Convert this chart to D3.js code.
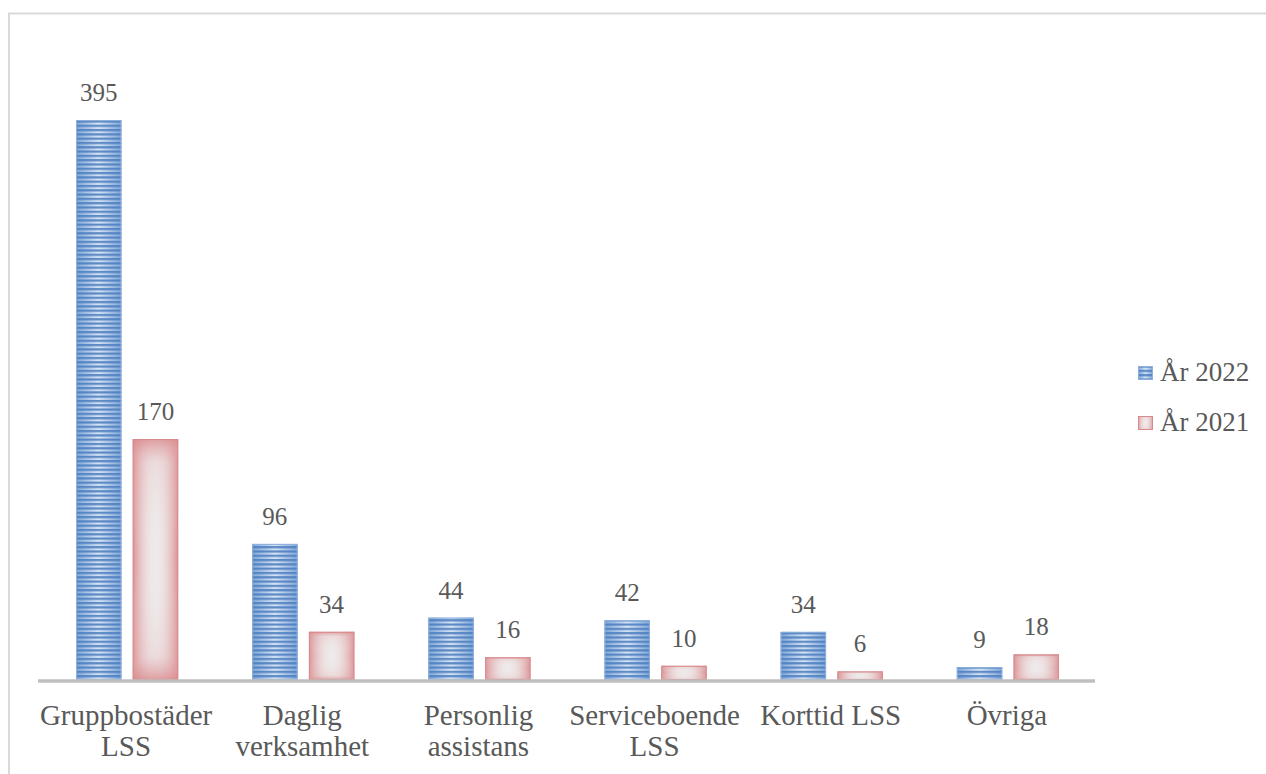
<!DOCTYPE html>
<html>
<head>
<meta charset="utf-8">
<script src="https://cdn.jsdelivr.net/npm/d3@7"></script>
</head>
<body style="margin:0">
<script>
// Categories (each label split into display lines) and the two yearly series
const categories = ["Gruppbostäder LSS", "Daglig verksamhet", "Personlig assistans", "Serviceboende LSS", "Korttid LSS", "Övriga"];
const categoryLines = [["Gruppbostäder", "LSS"], ["Daglig", "verksamhet"], ["Personlig", "assistans"], ["Serviceboende", "LSS"], ["Korttid LSS"], ["Övriga"]];
const seriesNames = ["År 2022", "År 2021"];
const values2022 = [395, 96, 44, 42, 34, 9];
const values2021 = [170, 34, 16, 10, 6, 18];

const TEXT_COLOR = "#595959";
const FONT = "'Liberation Serif'";

const W = 1266, H = 774;
const svg = d3.select("body").append("svg").attr("width", W).attr("height", H)
  .style("display", "block")
  .style("font-family", FONT);

// Outer frame
svg.append("rect").attr("x", 9).attr("y", 13.5).attr("width", W + 10).attr("height", H + 10)
  .attr("fill", "none").attr("stroke", "#d9d9d9").attr("stroke-width", 2);

const plot = { left: 38, right: 1095, top: 113, bottom: 680 };

const x0 = d3.scaleBand().domain(categories).range([plot.left, plot.right]).paddingInner(0).paddingOuter(0);
const x1 = d3.scaleBand().domain(seriesNames).range([38, x0.bandwidth() - 36]).paddingInner(0.2);
const y = d3.scaleLinear().domain([0, 400]).range([plot.bottom, plot.top]);

// Fills
const defs = svg.append("defs");
const blueGrad = defs.append("linearGradient").attr("id", "blueGrad").attr("x1", 0).attr("x2", 1).attr("y1", 0).attr("y2", 0);
blueGrad.append("stop").attr("offset", "0%").attr("stop-color", "#7fa6d8");
blueGrad.append("stop").attr("offset", "50%").attr("stop-color", "#d6e3f4");
blueGrad.append("stop").attr("offset", "100%").attr("stop-color", "#7fa6d8");

const stripes = defs.append("pattern").attr("id", "blueStripes").attr("patternUnits", "userSpaceOnUse")
  .attr("width", 8).attr("height", 4.3);
stripes.append("rect").attr("x", 0).attr("y", 0).attr("width", 8).attr("height", 2.2).attr("fill", "#4a7dbf").attr("opacity", 0.85);

const redH = defs.append("linearGradient").attr("id", "redH").attr("x1", 0).attr("x2", 1).attr("y1", 0).attr("y2", 0);
redH.append("stop").attr("offset", "0%").attr("stop-color", "#da8a8d").attr("stop-opacity", 0.95);
redH.append("stop").attr("offset", "30%").attr("stop-color", "#e8c4c5").attr("stop-opacity", 0.35);
redH.append("stop").attr("offset", "50%").attr("stop-color", "#f0eded").attr("stop-opacity", 0);
redH.append("stop").attr("offset", "70%").attr("stop-color", "#e8c4c5").attr("stop-opacity", 0.35);
redH.append("stop").attr("offset", "100%").attr("stop-color", "#da8a8d").attr("stop-opacity", 0.95);
const redV = defs.append("linearGradient").attr("id", "redV").attr("x1", 0).attr("x2", 0).attr("y1", 0).attr("y2", 1);
redV.append("stop").attr("offset", "0%").attr("stop-color", "#da8a8d").attr("stop-opacity", 1);
redV.append("stop").attr("offset", "10%").attr("stop-color", "#e3b0b2").attr("stop-opacity", 0.3);
redV.append("stop").attr("offset", "50%").attr("stop-color", "#f0eded").attr("stop-opacity", 0);
redV.append("stop").attr("offset", "90%").attr("stop-color", "#e3b0b2").attr("stop-opacity", 0.3);
redV.append("stop").attr("offset", "100%").attr("stop-color", "#da8a8d").attr("stop-opacity", 1);

const rows = categories.map((c, i) => ({ c, v: [values2022[i], values2021[i]] }));

const groups = svg.append("g").selectAll("g").data(rows).join("g")
  .attr("transform", d => `translate(${x0(d.c)},0)`);

function drawBlue(sel, xp, w, yTop, h) {
  sel.append("rect").attr("x", xp).attr("y", yTop).attr("width", w).attr("height", h).attr("fill", "url(#blueGrad)");
  sel.append("rect").attr("x", xp).attr("y", yTop).attr("width", w).attr("height", h).attr("fill", "url(#blueStripes)");
  sel.append("rect").attr("x", xp + 0.5).attr("y", yTop + 0.5).attr("width", w - 1).attr("height", Math.max(0, h - 1))
    .attr("fill", "none").attr("stroke", "#8fb0dc").attr("stroke-width", 1);
}
function drawRed(sel, xp, w, yTop, h) {
  sel.append("rect").attr("x", xp).attr("y", yTop).attr("width", w).attr("height", h).attr("fill", "#eeeaea");
  sel.append("rect").attr("x", xp).attr("y", yTop).attr("width", w).attr("height", h).attr("fill", "url(#redH)");
  sel.append("rect").attr("x", xp).attr("y", yTop).attr("width", w).attr("height", h).attr("fill", "url(#redV)").attr("opacity", 0.8);
  sel.append("rect").attr("x", xp + 0.5).attr("y", yTop + 0.5).attr("width", w - 1).attr("height", Math.max(0, h - 1))
    .attr("fill", "none").attr("stroke", "#d98a8d").attr("stroke-width", 1);
}

groups.each(function (d) {
  const g = d3.select(this);
  seriesNames.forEach((s, k) => {
    const v = d.v[k];
    const xp = x1(s), w = x1.bandwidth();
    const yTop = y(v), h = y(0) - y(v);
    const bar = g.append("g");
    if (k === 0) drawBlue(bar, xp, w, yTop, h); else drawRed(bar, xp, w, yTop, h);
    g.append("text").attr("x", xp + w / 2).attr("y", yTop - 19)
      .attr("text-anchor", "middle")
      .style("font-family", FONT).style("font-size", "25px")
      .attr("fill", TEXT_COLOR).text(v);
  });
});

// Category axis line
svg.append("line").attr("x1", plot.left).attr("x2", plot.right).attr("y1", 681).attr("y2", 681)
  .attr("stroke", "#bfbfbf").attr("stroke-width", 3.5);

// Category labels, one tspan per line
const labels = svg.append("g").selectAll("text").data(categories).join("text")
  .attr("text-anchor", "middle")
  .style("font-family", FONT).style("font-size", "29px")
  .attr("fill", TEXT_COLOR);
labels.each(function (d, i) {
  const t = d3.select(this);
  categoryLines[i].forEach((line, j) => {
    t.append("tspan").attr("x", x0(d) + x0.bandwidth() / 2).attr("y", 725 + j * 31).text(line);
  });
});

// Legend
const legend = svg.append("g");
seriesNames.forEach((s, k) => {
  const ly = 366 + k * 50;
  const g = legend.append("g");
  if (k === 0) drawBlue(g, 1138, 15, ly, 14); else drawRed(g, 1138, 15, ly, 14);
  legend.append("text").attr("x", 1160).attr("y", ly + 15)
    .style("font-family", FONT).style("font-size", "27px")
    .attr("fill", TEXT_COLOR).text(s);
});
</script>
</body>
</html>
